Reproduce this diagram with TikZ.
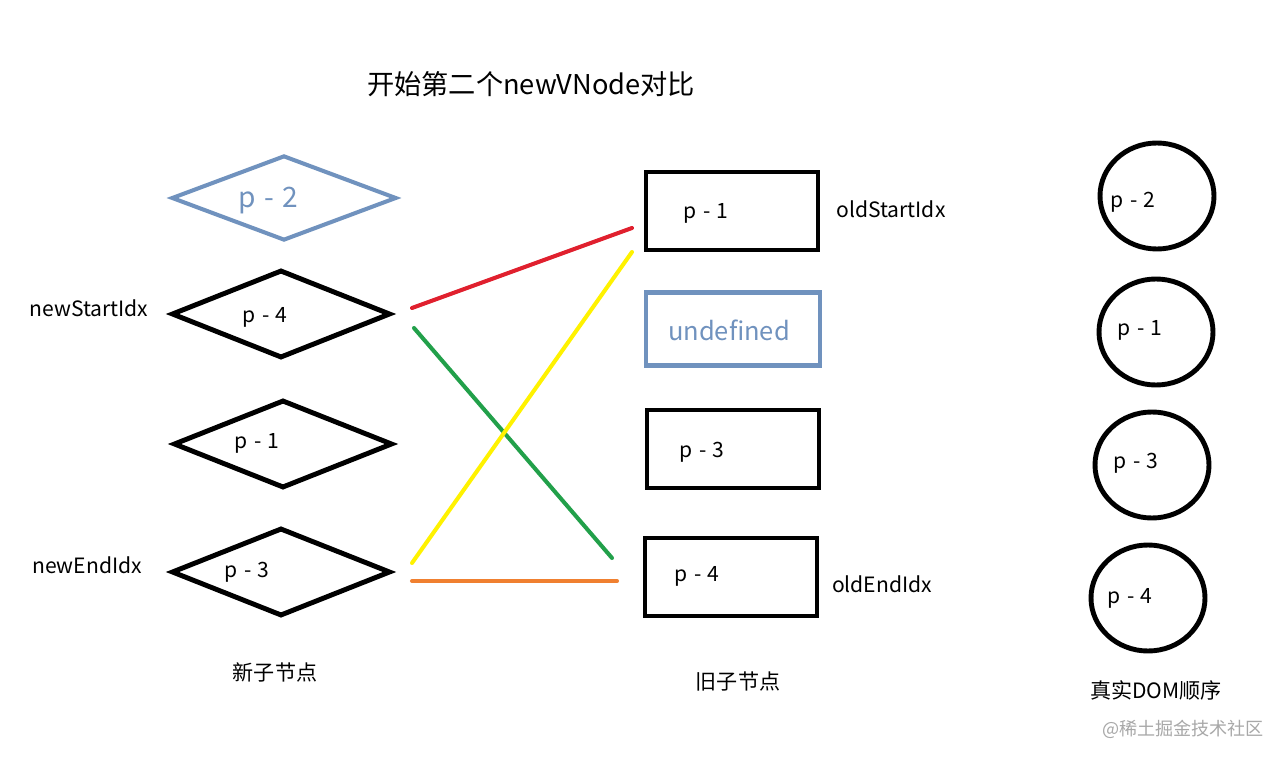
\documentclass[tikz,border=0pt]{standalone}
\usepackage{fontspec}
\setmainfont{Noto Sans CJK SC}
\usetikzlibrary{shapes.geometric}
\definecolor{pblue}{HTML}{7092BE}
\definecolor{lred}{HTML}{E0202E}
\definecolor{lgreen}{HTML}{22A04A}
\definecolor{lyellow}{HTML}{FFF200}
\definecolor{lorange}{HTML}{F08030}
\definecolor{wm}{HTML}{A8A8A8}
\newcommand{\mywidesp}{\spaceskip 0.3em\relax}
\tikzset{
  dia/.style={draw=black,line width=2.8pt,shape=diamond,minimum width=219*0.02cm,minimum height=88*0.02cm,inner sep=0pt},
  bdia/.style={dia,draw=pblue,line width=2.3pt,minimum width=225*0.02cm,minimum height=85*0.02cm},
  obox/.style={draw=black,line width=2.8pt,rectangle,minimum width=172*0.02cm,minimum height=78*0.02cm,inner sep=0pt},
  bbox/.style={obox,draw=pblue,line width=2.3pt,minimum width=174*0.02cm,minimum height=73*0.02cm},
  dom/.style={draw=black,line width=2.8pt,ellipse,minimum width=114*0.02cm,minimum height=106*0.02cm,inner sep=0pt},
  txt/.style={font=\fontsize{12}{14}\selectfont,inner sep=0pt},
  ptxt/.style={font=\fontsize{12}{14}\selectfont\mywidesp,inner sep=0pt},
  btxt/.style={font=\fontsize{15.5}{18}\selectfont,text=pblue,inner sep=0pt},
  link/.style={line width=2.3pt,line cap=round}
}
\begin{document}
\begin{tikzpicture}[x=0.02cm,y=-0.02cm]
\useasboundingbox (0,0) rectangle (1285,760);
\fill[white] (0,0) rectangle (1285,760);
% title
\node[inner sep=0pt,font=\fontsize{15.5}{18}\selectfont] (title) at (531,84) {开始第二个newVNode对比};
% new children (diamonds)
\node[bdia] (n2) at (284,198) {};
\node[btxt,font=\fontsize{16}{18}\selectfont\mywidesp] (n2t) at (268,201) {p - 2};
\node[dia] (n4) at (281,314) {};
\node[ptxt] (n4t) at (265,317) {p - 4};
\node[dia] (n1) at (283,444) {};
\node[ptxt] (n1t) at (257,443) {p - 1};
\node[dia] (n3) at (281,572) {};
\node[ptxt] (n3t) at (247,572) {p - 3};
\node[txt] (nsi) at (89,308) {newStartIdx};
\node[txt] (nei) at (87,565) {newEndIdx};
\node[txt] (newlab) at (275,672) {新子节点};
% old children (boxes)
\node[obox] (o1) at (732,211) {};
\node[ptxt] (o1t) at (706,213) {p - 1};
\node[bbox] (ou) at (733,329) {};
\node[btxt,font=\fontsize{14.5}{17}\selectfont] (out) at (729,330) {undefined};
\node[obox] (o3) at (733,449) {};
\node[ptxt] (o3t) at (702,452) {p - 3};
\node[obox] (o4) at (731,577) {};
\node[ptxt] (o4t) at (697,576) {p - 4};
\node[txt] (osi) at (891,209) {oldStartIdx};
\node[txt] (oei) at (882,584) {oldEndIdx};
\node[txt] (oldlab) at (738,681) {旧子节点};
% real DOM (circles)
\node[dom] (r2) at (1157,196) {};
\node[ptxt] (r2t) at (1133,202) {p - 2};
\node[dom] (r1) at (1156,332) {};
\node[ptxt] (r1t) at (1140,330) {p - 1};
\node[dom] (r3) at (1152,465) {};
\node[ptxt] (r3t) at (1136,463) {p - 3};
\node[dom] (r4) at (1148,598) {};
\node[ptxt] (r4t) at (1130,598) {p - 4};
\node[txt] (domlab) at (1156,690) {真实DOM顺序};
\node[inner sep=0pt,font=\fontsize{10.3}{12}\selectfont,text=wm] (wmk) at (1183,729) {@稀土掘金技术社区};
% connector ends
\coordinate (rA) at (412,308);
\coordinate (rB) at (632,228);
\coordinate (gA) at (414,328);
\coordinate (gB) at (612,558);
\coordinate (yA) at (412,563);
\coordinate (yB) at (632,252);
\coordinate (oA) at (412,581);
\coordinate (oB) at (617,581);
\draw[link,lred] (rA) -- (rB);
\draw[link,lgreen] (gA) -- (gB);
\draw[link,lyellow] (yA) -- (yB);
\draw[link,lorange] (oA) -- (oB);
\end{tikzpicture}
\end{document}
